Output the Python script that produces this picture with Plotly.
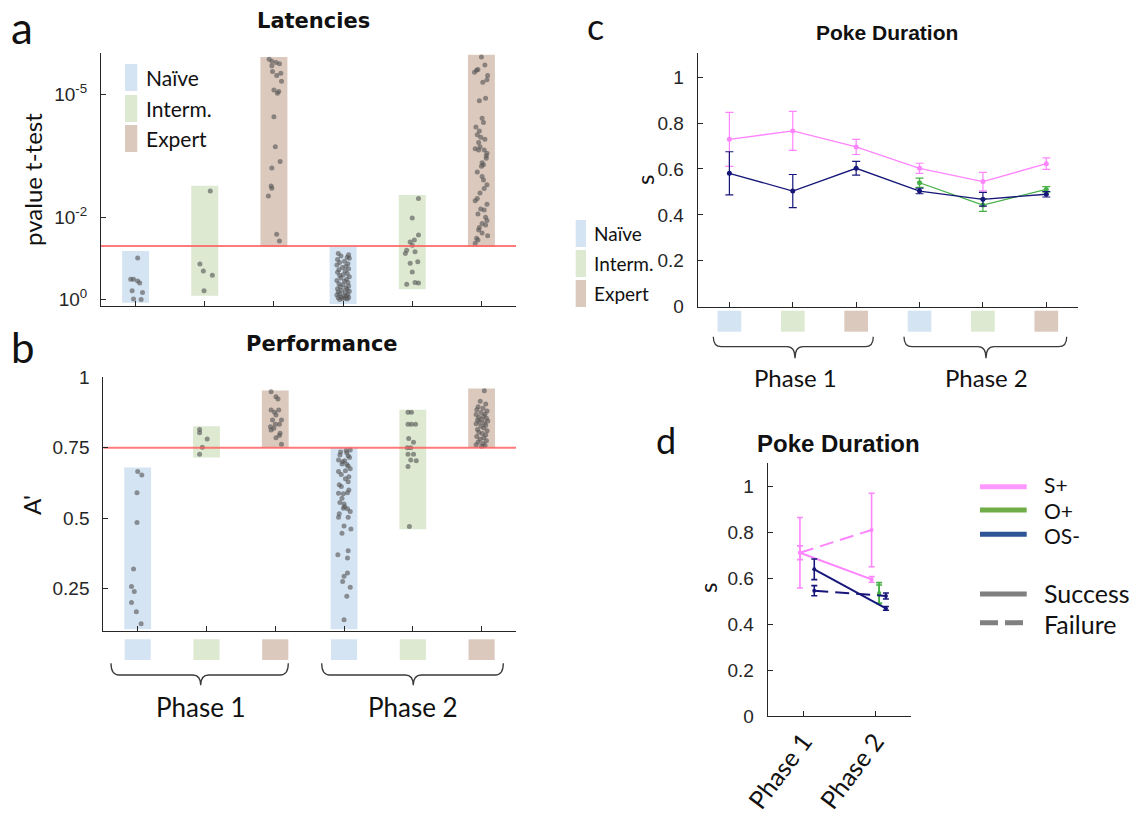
import math
import plotly.graph_objects as go

W, H = 1142, 818
def px(x): return x / W
def py(y): return 1 - y / H

# ---------------- data ----------------
categories = ["Naïve", "Interm.", "Expert"]
phases = ["Phase 1", "Phase 2"]
cat_pos = [1, 2, 3, 4, 5, 6]
cat_colors = ["#d5e4f3", "#dde9d1", "#dcc9bd"]

# Panel a: latencies, values are -log10(p)
lat_threshold_p = 0.05
lat_bar_low = [-0.08, 0.09, 1.28, -0.11, 0.25, 1.28]
lat_bar_high = [1.18, 2.77, 5.90, 1.28, 2.54, 5.96]

lat_naive_p1 = [1.01, 0.49, 0.49, 0.45, 0.40, 0.21, 0.17, 0.01, 0.00]
lat_naive_p1_jit = [0.03, -0.07, -0.03, 0.03, 0.06, -0.05, 0.10, -0.03, 0.08]
lat_interm_p1 = [2.64, 0.86, 0.69, 0.59, 0.21]
lat_interm_p1_jit = [0.08, -0.07, -0.02, 0.11, -0.01]
lat_expert_p1 = [5.85, 5.80, 5.77, 5.74, 5.69, 5.55, 5.51, 5.45, 5.31, 5.10, 5.06,
                 5.02, 4.45, 3.72, 3.36, 3.20, 2.76, 2.71, 2.52, 1.59, 1.42]
lat_expert_p1_jit = [-0.07, -0.03, 0.03, 0.08, -0.03, -0.02, 0.10, 0.04, 0.11, 0.00, 0.07,
                     0.05, 0.00, 0.02, 0.09, -0.03, -0.04, -0.03, -0.08, 0.04, 0.08]
lat_naive_p2 = [1.12, 1.09, 1.06, 1.03, 1.00, 0.97, 0.93, 0.90,
                0.87, 0.84, 0.81, 0.78, 0.75, 0.72, 0.69, 0.66,
                0.63, 0.60, 0.58, 0.55, 0.52, 0.49, 0.46, 0.44,
                0.41, 0.38, 0.36, 0.33, 0.31, 0.28, 0.26, 0.24,
                0.22, 0.20, 0.18, 0.16, 0.14, 0.12, 0.11, 0.09,
                0.08, 0.06, 0.05, 0.04, 0.03, 0.02, 0.01, 0.00]
lat_naive_p2_jit = [-0.07, 0.08, -0.03, 0.06, 0.09, -0.08, 0.02, -0.05,
                    0.07, -0.09, 0.04, -0.01, 0.08, -0.06, 0.03, -0.08,
                    0.06, 0.00, -0.05, 0.09, -0.03, 0.05, -0.09, 0.02,
                    0.07, -0.06, 0.00, 0.08, -0.04, 0.04, -0.08, 0.06,
                    -0.02, 0.09, -0.07, 0.03, -0.05, 0.07, -0.09, 0.01,
                    0.05, -0.03, 0.08, -0.07, 0.03, -0.01, 0.06, -0.05]
lat_interm_p2 = [2.46, 1.98, 1.57, 1.45, 1.40, 1.32, 1.20, 1.12, 1.16, 0.88, 0.92,
                 0.67, 0.37, 0.41, 0.40]
lat_interm_p2_jit = [0.09, 0.00, 0.09, 0.03, -0.03, 0.00, -0.08, -0.10, 0.04, -0.03, 0.08,
                     0.00, -0.08, 0.04, 0.09]
lat_expert_p2 = [5.90, 5.71, 5.58, 5.53, 5.35, 5.29, 4.84, 4.41, 4.31, 4.10, 4.01,
                 3.95, 3.82, 3.67, 3.64, 3.64, 3.56, 3.44, 3.33, 3.28, 3.24, 2.99,
                 2.91, 2.79, 2.59, 2.46, 2.32, 2.20, 2.18, 2.08, 1.92, 1.85, 1.81,
                 1.69, 1.62, 1.49, 1.37, 5.60, 5.45, 4.90, 4.20, 3.90, 3.72, 3.50,
                 3.10, 2.70, 2.40, 2.00, 1.75, 1.55, 1.45]
lat_expert_p2_jit = [0.00, 0.05, -0.07, -0.10, 0.08, 0.02, -0.03, 0.01, 0.03, -0.03, -0.06,
                     -0.01, -0.04, -0.09, -0.04, 0.04, 0.08, 0.07, 0.01, 0.03, 0.00, 0.01,
                     0.03, 0.08, -0.02, -0.06, 0.08, -0.01, 0.04, -0.05, 0.08, 0.01, 0.06,
                     -0.04, 0.01, -0.07, -0.09, -0.05, 0.09, 0.06, -0.08, 0.05, -0.02, 0.07,
                     -0.06, 0.04, -0.09, 0.06, -0.03, 0.09, -0.05]

# Panel b: performance A'
perf_threshold = 0.75
perf_bar_low = [0.105, 0.715, 0.75, 0.105, 0.46, 0.75]
perf_bar_high = [0.68, 0.826, 0.953, 0.75, 0.885, 0.96]

perf_naive_p1 = [0.665, 0.653, 0.59, 0.484, 0.319, 0.257, 0.239, 0.20, 0.167, 0.125]
perf_naive_p1_jit = [0.00, 0.06, -0.01, -0.01, -0.06, -0.09, -0.05, -0.09, -0.02, 0.05]
perf_interm_p1 = [0.815, 0.803, 0.781, 0.752, 0.727]
perf_interm_p1_jit = [-0.10, -0.10, 0.01, -0.06, -0.10]
perf_expert_p1 = [0.949, 0.931, 0.923, 0.884, 0.876, 0.884, 0.866, 0.848, 0.848, 0.824,
                  0.833, 0.833, 0.819, 0.813, 0.801, 0.785, 0.793, 0.762]
perf_expert_p1_jit = [-0.06, 0.01, 0.04, -0.06, -0.01, 0.05, 0.01, -0.04, 0.09, -0.07,
                      0.00, 0.06, -0.02, -0.06, 0.07, 0.01, 0.06, 0.09]
perf_naive_p2 = [0.742, 0.732, 0.724, 0.721, 0.706, 0.704, 0.692, 0.685, 0.665, 0.668,
                 0.647, 0.629, 0.618, 0.612, 0.588, 0.586, 0.59, 0.555, 0.55, 0.535,
                 0.533, 0.523, 0.503, 0.503, 0.472, 0.461, 0.446, 0.37, 0.384, 0.358,
                 0.305, 0.293, 0.275, 0.254, 0.222, 0.139,
                 0.74, 0.735, 0.715, 0.70, 0.69, 0.675, 0.655, 0.64, 0.60, 0.57, 0.54, 0.515]
perf_naive_p2_jit = [0.09, 0.04, -0.06, 0.06, -0.08, 0.01, -0.03, 0.06, -0.08, 0.02,
                     0.07, 0.06, -0.07, -0.04, -0.08, -0.01, 0.05, -0.06, 0.00, -0.01,
                     0.05, 0.09, -0.08, 0.06, 0.00, 0.10, -0.03, -0.09, 0.06, 0.05,
                     0.05, 0.00, -0.02, 0.09, 0.04, 0.00,
                     0.03, -0.05, 0.08, -0.02, 0.04, 0.09, -0.04, 0.02, 0.07, -0.03, 0.01, -0.07]
perf_interm_p2 = [0.876, 0.876, 0.833, 0.833, 0.833, 0.783, 0.769, 0.75, 0.75, 0.727,
                  0.727, 0.706, 0.704, 0.683, 0.47]
perf_interm_p2_jit = [-0.07, -0.02, -0.07, -0.02, 0.04, -0.06, 0.01, -0.08, -0.03, -0.07,
                      0.01, -0.03, 0.05, -0.07, -0.05]
perf_expert_p2 = [0.952, 0.915, 0.905, 0.895, 0.89, 0.885, 0.88, 0.875, 0.87, 0.868,
                  0.862, 0.858, 0.855, 0.85, 0.848, 0.845, 0.84, 0.838, 0.835, 0.83,
                  0.826, 0.82, 0.815, 0.81, 0.805, 0.80, 0.795, 0.79, 0.785, 0.78,
                  0.775, 0.77, 0.765, 0.76, 0.758, 0.755]
perf_expert_p2_jit = [0.04, -0.02, 0.06, -0.05, 0.02, -0.07, 0.08, -0.01, 0.05, -0.08,
                      0.03, -0.04, 0.07, 0.00, -0.06, 0.09, -0.03, 0.04, -0.08, 0.06,
                      -0.01, 0.03, -0.06, 0.08, -0.04, 0.01, 0.06, -0.07, 0.03, -0.02,
                      0.07, -0.05, 0.02, -0.08, 0.05, 0.00]

# Panel c: poke duration (s) mean +/- sem per group
c_splus_mean = [0.729, 0.766, 0.696, 0.603, 0.545, 0.623]
c_splus_err = [0.118, 0.085, 0.033, 0.022, 0.040, 0.025]
c_osminus_mean = [0.581, 0.504, 0.603, 0.504, 0.468, 0.490]
c_osminus_err = [0.094, 0.072, 0.030, 0.012, 0.030, 0.012]
c_oplus_pos = [4, 5, 6]
c_oplus_mean = [0.540, 0.443, 0.511]
c_oplus_err = [0.020, 0.028, 0.012]

# Panel d: poke duration by outcome
d_phase_pos = [1, 2]
d_offset = {"S+": -0.05, "O+": 0.055, "OS-": 0.15}
d_splus_success = [0.710, 0.594]
d_splus_success_err = [0.030, 0.012]
d_splus_failure = [0.710, 0.809]
d_splus_failure_err = [0.153, 0.160]
d_oplus_success = [0.535]
d_oplus_success_err = [0.045]
d_oplus_failure = [0.530]
d_oplus_failure_err = [0.040]
d_osminus_success = [0.638, 0.468]
d_osminus_success_err = [0.045, 0.008]
d_osminus_failure = [0.545, 0.522]
d_osminus_failure_err = [0.022, 0.013]

# ---------------- styles ----------------
AX = "#262626"
PINK = "#ff85ff"
NAVY = "#17177a"
GREEN = "#45b045"
DOT = "rgba(85,85,85,0.62)"
RED = "rgba(255,90,90,0.8)"
TXT = "Lato"
STANDOFF = 9

def tickfont(size):
    return dict(family="Liberation Sans", size=size, color=AX)

fig = go.Figure()

# ---- panel a ----
fig.add_trace(go.Bar(x=cat_pos, base=lat_bar_low,
                     y=[h - l for h, l in zip(lat_bar_high, lat_bar_low)],
                     width=0.39, marker=dict(color=cat_colors * 2, line=dict(width=0)),
                     xaxis="x", yaxis="y", hoverinfo="skip"))
groups_a = [(lat_naive_p1, lat_naive_p1_jit), (lat_interm_p1, lat_interm_p1_jit),
            (lat_expert_p1, lat_expert_p1_jit), (lat_naive_p2, lat_naive_p2_jit),
            (lat_interm_p2, lat_interm_p2_jit), (lat_expert_p2, lat_expert_p2_jit)]
xs, ys = [], []
for pos, (vals, jit) in zip(cat_pos, groups_a):
    for v, j in zip(vals, jit):
        xs.append(pos + j); ys.append(v)
fig.add_trace(go.Scatter(x=xs, y=ys, mode="markers", marker=dict(size=5, color=DOT),
                         xaxis="x", yaxis="y"))
thr_a = -math.log10(lat_threshold_p)
fig.add_trace(go.Scatter(x=[0.5, 6.5], y=[thr_a, thr_a], mode="lines",
                         line=dict(color=RED, width=2), xaxis="x", yaxis="y"))

# ---- panel b ----
fig.add_trace(go.Bar(x=cat_pos, base=perf_bar_low,
                     y=[h - l for h, l in zip(perf_bar_high, perf_bar_low)],
                     width=0.39, marker=dict(color=cat_colors * 2, line=dict(width=0)),
                     xaxis="x2", yaxis="y2", hoverinfo="skip"))
groups_b = [(perf_naive_p1, perf_naive_p1_jit), (perf_interm_p1, perf_interm_p1_jit),
            (perf_expert_p1, perf_expert_p1_jit), (perf_naive_p2, perf_naive_p2_jit),
            (perf_interm_p2, perf_interm_p2_jit), (perf_expert_p2, perf_expert_p2_jit)]
xs, ys = [], []
for pos, (vals, jit) in zip(cat_pos, groups_b):
    for v, j in zip(vals, jit):
        xs.append(pos + j); ys.append(v)
fig.add_trace(go.Scatter(x=xs, y=ys, mode="markers", marker=dict(size=5, color=DOT),
                         xaxis="x2", yaxis="y2"))
fig.add_trace(go.Scatter(x=[0.5, 6.5], y=[perf_threshold, perf_threshold], mode="lines",
                         line=dict(color=RED, width=2), xaxis="x2", yaxis="y2"))

# ---- panel c ----
def eb(arr, color, w=4, t=1.2):
    return dict(type="data", array=arr, visible=True, color=color, thickness=t, width=w)

fig.add_trace(go.Scatter(x=cat_pos, y=c_splus_mean, error_y=eb(c_splus_err, PINK),
                         mode="lines+markers", line=dict(color=PINK, width=1.3),
                         marker=dict(size=5, color=PINK), xaxis="x3", yaxis="y3"))
fig.add_trace(go.Scatter(x=c_oplus_pos, y=c_oplus_mean, error_y=eb(c_oplus_err, GREEN),
                         mode="lines+markers", line=dict(color=GREEN, width=1.3),
                         marker=dict(size=5, color=GREEN), xaxis="x3", yaxis="y3"))
fig.add_trace(go.Scatter(x=cat_pos, y=c_osminus_mean, error_y=eb(c_osminus_err, NAVY),
                         mode="lines+markers", line=dict(color=NAVY, width=1.3),
                         marker=dict(size=5, color=NAVY), xaxis="x3", yaxis="y3"))

# ---- panel d ----
def dtrace(key, pos, vals, errs, color, dash):
    x = [p + d_offset[key] for p in pos]
    return go.Scatter(x=x, y=vals, error_y=eb(errs, color, w=3, t=1.6),
                      mode="lines+markers", line=dict(color=color, width=2, dash=dash),
                      marker=dict(size=4, color=color), xaxis="x4", yaxis="y4")

fig.add_trace(dtrace("S+", d_phase_pos, d_splus_failure, d_splus_failure_err, PINK, "14px,7px"))
fig.add_trace(dtrace("S+", d_phase_pos, d_splus_success, d_splus_success_err, PINK, "solid"))
fig.add_trace(dtrace("O+", [2], d_oplus_failure, d_oplus_failure_err, GREEN, "14px,7px"))
fig.add_trace(dtrace("O+", [2], d_oplus_success, d_oplus_success_err, GREEN, "solid"))
fig.add_trace(dtrace("OS-", d_phase_pos, d_osminus_failure, d_osminus_failure_err, NAVY, "14px,7px"))
fig.add_trace(dtrace("OS-", d_phase_pos, d_osminus_success, d_osminus_success_err, NAVY, "solid"))

# ---------------- axes ----------------
def ax(**kw):
    d = dict(showline=True, linecolor=AX, linewidth=1, ticks="inside", ticklen=5,
             tickcolor=AX, tickwidth=1, showgrid=False, zeroline=False, mirror=False,
             fixedrange=True, automargin=False)
    d.update(kw)
    return d

fig.update_layout(
    xaxis=ax(domain=[px(101), px(516)], range=[0.5, 6.5], tickvals=cat_pos,
             showticklabels=False, anchor="y"),
    yaxis=ax(domain=[py(306), py(53)], range=[-0.16, 6.0], tickvals=[0, 2, 5],
             ticktext=["10<sup>0</sup>", "10<sup>-2</sup>", "10<sup>-5</sup>"],
             anchor="x", ticklabelstandoff=STANDOFF, tickfont=tickfont(19)),
    xaxis2=ax(domain=[px(103.3), px(516)], range=[0.5, 6.5], tickvals=cat_pos,
              showticklabels=False, anchor="y2"),
    yaxis2=ax(domain=[py(630.7), py(377.3)], range=[0.1, 1.0],
              tickvals=[0.25, 0.5, 0.75, 1], ticktext=["0.25", "0.5", "0.75", "1"],
              anchor="x2", ticklabelstandoff=STANDOFF, tickfont=tickfont(19)),
    xaxis3=ax(domain=[px(697.7), px(1078)], range=[0.5, 6.5], tickvals=cat_pos,
              showticklabels=False, anchor="y3"),
    yaxis3=ax(domain=[py(306.7), py(53.3)], range=[0, 1.104],
              tickvals=[0, 0.2, 0.4, 0.6, 0.8, 1], ticktext=["0", "0.2", "0.4", "0.6", "0.8", "1"],
              anchor="x3", tickfont=tickfont(19), ticklabelstandoff=STANDOFF),
    xaxis4=ax(domain=[px(767.7), px(911)], range=[0.5, 2.5], tickvals=d_phase_pos,
              ticktext=phases, tickangle=-53, anchor="y4",
              tickfont=dict(family=TXT, size=25, color="#111")),
    yaxis4=ax(domain=[py(716), py(463.3)], range=[0, 1.099],
              tickvals=[0, 0.2, 0.4, 0.6, 0.8, 1], ticktext=["0", "0.2", "0.4", "0.6", "0.8", "1"],
              anchor="x4", tickfont=tickfont(19), ticklabelstandoff=STANDOFF),
)

# ---------------- shapes ----------------
shapes = []
for i, pos in enumerate(cat_pos):
    col = cat_colors[i % 3]
    shapes.append(dict(type="rect", xref="x2", yref="paper", x0=pos - 0.19, x1=pos + 0.19,
                       y0=py(660), y1=py(639.3), fillcolor=col, line=dict(width=0), layer="above"))
    shapes.append(dict(type="rect", xref="x3", yref="paper", x0=pos - 0.187, x1=pos + 0.187,
                       y0=py(331.7), y1=py(310.7), fillcolor=col, line=dict(width=0), layer="above"))

def brace(x0, x1, xc, ytop, ymid, ybot, r=8):
    P = lambda x, y: f"{px(x):.5f},{py(y):.5f}"
    return ("M " + P(x0, ytop) + " Q " + P(x0, ymid) + " " + P(x0 + r, ymid) +
            " L " + P(xc - r, ymid) + " Q " + P(xc, ymid) + " " + P(xc, ybot) +
            " Q " + P(xc, ymid) + " " + P(xc + r, ymid) +
            " L " + P(x1 - r, ymid) + " Q " + P(x1, ymid) + " " + P(x1, ytop))

for b in [(111, 288.3, 200.7, 663.3, 675, 685.3), (321.7, 503.3, 413.3, 663.3, 675, 685.3),
          (713.3, 873.3, 795, 336.7, 346.7, 358.3), (904, 1066.7, 986, 336.7, 346.7, 358.3)]:
    shapes.append(dict(type="path", xref="paper", yref="paper", path=brace(*b),
                       line=dict(color="#3a3a3a", width=1.3)))

for i, (ya, yc) in enumerate([(64, 220), (95, 250), (125, 280)]):
    shapes.append(dict(type="rect", xref="paper", yref="paper", x0=px(125), x1=px(137.3),
                       y0=py(ya + 27), y1=py(ya), fillcolor=cat_colors[i], line=dict(width=0)))
    shapes.append(dict(type="rect", xref="paper", yref="paper", x0=px(575.7), x1=px(586),
                       y0=py(yc + 27), y1=py(yc), fillcolor=cat_colors[i], line=dict(width=0)))

# legend d: (label, colour, dash, line y, text y, text size)
legend_d = [("S+", "#ff99ff", "solid", 486.7, 484.5, 21),
            ("O+", "#70ad47", "solid", 510, 510, 21),
            ("OS-", "#2f5597", "solid", 534.3, 535.5, 21),
            ("Success", "#808080", "solid", 594, 592.5, 25),
            ("Failure", "#808080", "18px,7px", 622.7, 624, 25)]
for name, col, dash, yy, ty, fs in legend_d:
    shapes.append(dict(type="line", xref="paper", yref="paper", x0=px(980), x1=px(1026.7),
                       y0=py(yy), y1=py(yy), line=dict(color=col, width=5, dash=dash)))

# ---------------- annotations ----------------
ann = []
def A(text, x, y, size, family=TXT, angle=0, xanchor="center", color="#111"):
    ann.append(dict(text=text, x=px(x), y=py(y), xref="paper", yref="paper", showarrow=False,
                    xanchor=xanchor, yanchor="middle", textangle=angle,
                    font=dict(family=family, size=size, color=color)))

A("a", 22, 27, 44)
A("b", 23, 347, 42)
A("c", 595, 26, 36)
A("d", 666, 440, 36)
A("<b>Latencies</b>", 313, 21, 21, family="DejaVu Sans")
A("<b>Performance</b>", 322, 344, 21, family="DejaVu Sans")
A("<b>Poke Duration</b>", 887, 33, 21, family="Liberation Sans")
A("<b>Poke Duration</b>", 838, 443, 24, family="Liberation Sans")
A("pvalue t-test", 32, 180, 24, angle=-90)
A("A'", 31, 505, 24, angle=-90)
A("s", 644, 180, 24, angle=-90)
A("s", 707, 588, 24, angle=-90)
for i, c in enumerate(categories):
    A(c, 144, [77.5, 108.3, 138.7][i], 21, xanchor="left")
    A(c, 592, [233.3, 263.3, 293.3][i], 19, xanchor="left")
A(phases[0], 200.7, 707, 26)
A(phases[1], 413.3, 707, 26)
A(phases[0], 795, 378, 24)
A(phases[1], 986, 378, 24)
for name, col, dash, yy, ty, fs in legend_d:
    A(name, 1041.7, ty, fs, xanchor="left")

fig.update_layout(width=W, height=H, margin=dict(l=0, r=0, t=0, b=0, autoexpand=False),
                  paper_bgcolor="white", plot_bgcolor="white", showlegend=False,
                  shapes=shapes, annotations=ann, barmode="overlay")

fig.write_html("out.html",
               post_script="document.body.style.margin='0px';document.body.style.overflow='hidden';")
